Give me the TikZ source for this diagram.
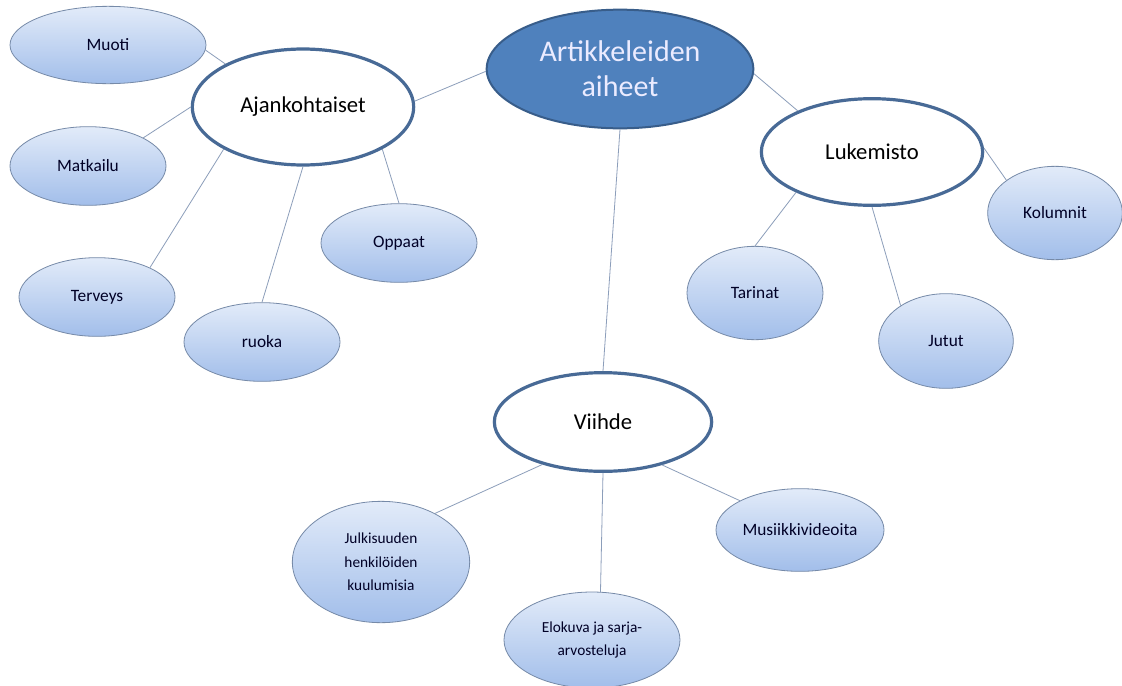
\documentclass[tikz,border=0pt]{standalone}
\usepackage{fontspec}
\setmainfont{Carlito}
\usetikzlibrary{shapes.geometric}

\definecolor{rootblue}{RGB}{79,129,189}
\definecolor{rootline}{RGB}{56,93,138}
\definecolor{ringblue}{RGB}{72,106,150}
\definecolor{leaftop}{RGB}{226,235,249}
\definecolor{leafbot}{RGB}{162,190,234}
\definecolor{leafline}{RGB}{118,138,168}
\definecolor{linkgray}{RGB}{140,158,186}

\begin{document}
\begin{tikzpicture}[x=0.75pt, y=-0.75pt,
		root/.style={ellipse, draw=rootline, line width=1.5pt, fill=rootblue, text=white!92!blue, align=center, inner sep=0pt, font=\fontsize{22.5}{26}\selectfont},
		topic/.style={ellipse, draw=ringblue, line width=2.4pt, fill=white, inner sep=0pt, font=\fontsize{17}{20}\selectfont},
		leaf/.style={ellipse, draw=leafline, line width=0.6pt, top color=leaftop, bottom color=leafbot, text=black!85!blue, align=center, inner sep=0pt, font=\fontsize{13}{15.5}\selectfont},
		small/.style={font=\fontsize{11.5}{17.5}\selectfont},
		link/.style={draw=linkgray, line width=0.6pt}
		]
		\useasboundingbox[fill=white] (0,0) rectangle (1122,686);

		\node[root, minimum width=200pt, minimum height=89pt] (aiheet) at (620,69) {Artikkeleiden\\aiheet};
		\node[topic, minimum width=166pt, minimum height=87pt] (ajank) at (303,107) {Ajankohtaiset};
		\node[topic, minimum width=166pt, minimum height=80pt] (lukem) at (872,152) {Lukemisto};
		\node[topic, minimum width=163pt, minimum height=74pt] (viihde) at (603,422) {Viihde};

		\node[leaf, minimum width=147pt, minimum height=58pt] (muoti) at (108,45) {Muoti};
		\node[leaf, minimum width=117pt, minimum height=59pt] (matka) at (88,166) {Matkailu};
		\node[leaf, minimum width=117pt, minimum height=59pt] (terv) at (97,297) {Terveys};
		\node[leaf, minimum width=117pt, minimum height=59pt] (ruoka) at (262,342) {ruoka};
		\node[leaf, minimum width=117pt, minimum height=59pt] (oppaat) at (399,243) {Oppaat};

		\node[leaf, minimum width=102pt, minimum height=70pt] (tarin) at (755,293) {Tarinat};
		\node[leaf, minimum width=101pt, minimum height=71pt] (jutut) at (946,341) {Jutut};
		\node[leaf, minimum width=101pt, minimum height=70pt] (kolum) at (1055,213) {Kolumnit};

		\node[leaf, small, minimum width=133pt, minimum height=91pt] (julki) at (381,562) {Julkisuuden\\henkilöiden\\kuulumisia};
		\node[leaf, small, minimum width=132pt, minimum height=72pt] (eloku) at (592,640) {Elokuva ja sarja-\\arvosteluja};
		\node[leaf, minimum width=126pt, minimum height=62pt] (musiik) at (800,530) {Musiikkivideoita};

		% paahaarat
		\draw[link] (aiheet.181) -- (ajank.3);
		\draw[link] (aiheet.358) -- (lukem.151);
		\draw[link] (aiheet.270) -- (viihde.90);

		% ajankohtaiset
		\draw[link] (ajank.151) -- (muoti.357);
		\draw[link] (ajank.180) -- (matka.27);
		\draw[link] (ajank.208) -- (terv.29);
		\draw[link] (ajank.270) -- (ruoka.90);
		\draw[link] (ajank.332) -- (oppaat.90);

		% lukemisto
		\draw[link] (lukem.208) -- (tarin.90);
		\draw[link] (lukem.270) -- (jutut.142);
		\draw[link] (lukem.2) -- (kolum.146);

		% viihde
		\draw[link] (viihde.215) -- (julki.42);
		\draw[link] (viihde.270) -- (eloku.80);
		\draw[link] (viihde.324) -- (musiik.154);
	\end{tikzpicture}
\end{document}
